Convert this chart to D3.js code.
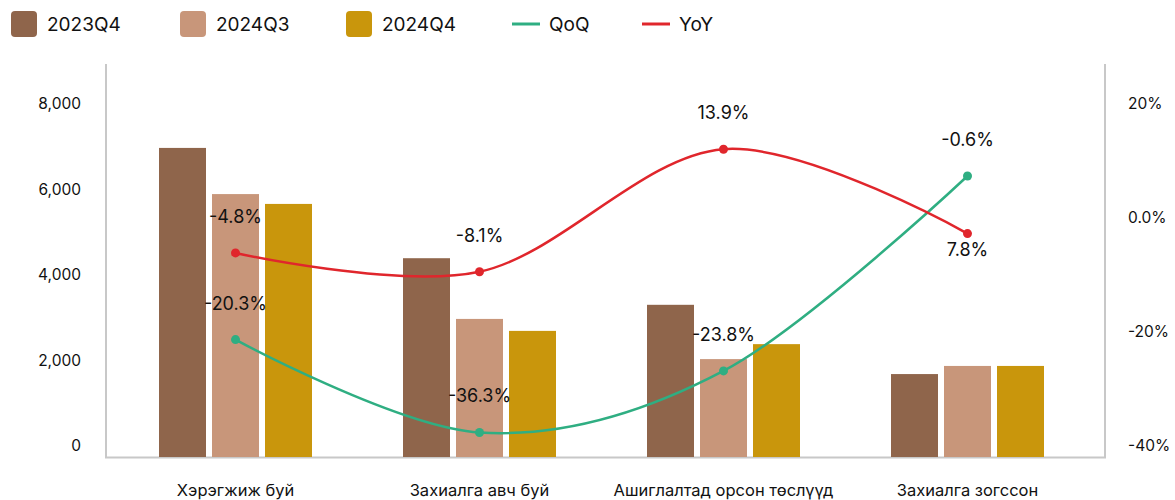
<!DOCTYPE html>
<html>
<head>
<meta charset="utf-8">
<script src="https://cdn.jsdelivr.net/npm/d3@7"></script>
<style>
  body { margin: 0; background: #fff; }
  text { font-family: Inter, "Noto Sans", sans-serif; fill: #111; }
</style>
</head>
<body>
<svg width="1175" height="500"></svg>
<script>
/**Data**/
var categories = ["Хэрэгжиж буй", "Захиалга авч буй", "Ашиглалтад орсон төслүүд", "Захиалга зогссон"];
var seriesNames = ["2023Q4", "2024Q3", "2024Q4"];
var v2023Q4 = [7230, 4650, 3560, 1940];
var v2024Q3 = [6150, 3230, 2290, 2130];
var v2024Q4 = [5920, 2950, 2640, 2130];
var qoq = [-19.4, -35.7, -24.9, 9.3];
var yoy = [-4.2, -7.5, 14.0, -0.8];
var qoqLabels = ["-20.3%", "-36.3%", "-23.8%", "-0.6%"];
var yoyLabels = ["-4.8%", "-8.1%", "13.9%", "7.8%"];
var leftTicks = [0, 2000, 4000, 6000, 8000];
var rightTicks = [20, 0, -20, -40];
var rightTickLabels = ["20%", "0.0%", "-20%", "-40%"];

var barColors = ["#8f654b", "#c8967a", "#c9960c"];
var qoqColor = "#2fae82";
var yoyColor = "#e0262c";

/**Initialization**/
var svg = d3.select("svg");
var plotTop = 115, plotBottom = 457;

var x = d3.scaleBand().domain(categories).range([113.5, 1089.5]).padding(0);
var y = d3.scaleLinear().domain([0, 8000]).range([plotBottom, plotTop]);
var yR = d3.scaleLinear().domain([-40, 20]).range([plotBottom, plotTop]);

var barW = 47, barGap = 6;
var values = [v2023Q4, v2024Q3, v2024Q4];

//frame: left, bottom, right
svg.append("path")
	.attr("d", "M106,64V457.5H1105V64")
	.attr("fill", "none")
	.attr("stroke", "#c8c8c8")
	.attr("stroke-width", 2);

//left axis
var gl = svg.append("g")
	.attr("transform", "translate(81,0)")
	.call(d3.axisLeft(y).tickValues(leftTicks).tickSize(0).tickPadding(0).tickFormat(d3.format(",")));
gl.select(".domain").remove();
gl.selectAll("text")
	.attr("dy", "-0.42em")
	.attr("font-size", 15.5)
	.attr("font-family", "Inter, sans-serif")
	.attr("fill", "#111");

//right axis
var gr = svg.append("g")
	.attr("transform", "translate(1128,0)")
	.call(d3.axisRight(yR).tickValues(rightTicks).tickSize(0).tickPadding(0)
		.tickFormat(function(d, i) { return rightTickLabels[i]; }));
gr.select(".domain").remove();
gr.selectAll("text")
	.attr("dy", "-0.42em")
	.attr("font-size", 15.5)
	.attr("font-family", "Inter, sans-serif")
	.attr("fill", "#111");

//bars
var groupW = barW * 3 + barGap * 2;
seriesNames.forEach(function(name, s) {
	svg.append("g")
		.selectAll("rect")
		.data(values[s])
		.enter().append("rect")
		.attr("x", function(d, i) { return x(categories[i]) + x.bandwidth() / 2 - groupW / 2 + s * (barW + barGap); })
		.attr("y", function(d) { return y(d); })
		.attr("width", barW)
		.attr("height", function(d) { return plotBottom - y(d); })
		.attr("fill", barColors[s]);
});

//category labels
svg.append("g")
	.selectAll("text")
	.data(categories)
	.enter().append("text")
	.attr("x", function(d) { return x(d) + x.bandwidth() / 2; })
	.attr("y", 496)
	.attr("text-anchor", "middle")
	.attr("font-size", 16.5)
	.text(function(d) { return d; });

//lines
function cx(i) { return x(categories[i]) + x.bandwidth() / 2; }
var line = d3.line()
	.x(function(d, i) { return cx(i); })
	.y(function(d) { return yR(d); })
	.curve(d3.curveCardinal.tension(0));

function drawLine(data, labels, color, below) {
	svg.append("path")
		.datum(data)
		.attr("d", line)
		.attr("fill", "none")
		.attr("stroke", color)
		.attr("stroke-width", 2.5);
	svg.append("g")
		.selectAll("circle")
		.data(data)
		.enter().append("circle")
		.attr("cx", function(d, i) { return cx(i); })
		.attr("cy", function(d) { return yR(d); })
		.attr("r", 4.5)
		.attr("fill", color);
	svg.append("g")
		.selectAll("text")
		.data(data)
		.enter().append("text")
		.attr("x", function(d, i) { return cx(i); })
		.attr("y", function(d, i) { return below(i) ? yR(d) + 22 : yR(d) - 30; })
		.attr("text-anchor", "middle")
		.attr("font-size", 18)
		.text(function(d, i) { return labels[i]; });
}
drawLine(qoq, qoqLabels, qoqColor, function() { return false; });
drawLine(yoy, yoyLabels, yoyColor, function(i) { return i === 3; });

//legend
var legend = svg.append("g");
var barLegendX = [11, 180, 346];
seriesNames.forEach(function(name, s) {
	legend.append("rect")
		.attr("x", barLegendX[s]).attr("y", 11)
		.attr("width", 26).attr("height", 26)
		.attr("rx", 4)
		.attr("fill", barColors[s]);
	legend.append("text")
		.attr("x", barLegendX[s] + 36).attr("y", 31)
		.attr("font-size", 19)
		.text(name);
});
[["QoQ", qoqColor, 512], ["YoY", yoyColor, 642]].forEach(function(l) {
	legend.append("line")
		.attr("x1", l[2]).attr("x2", l[2] + 28)
		.attr("y1", 24).attr("y2", 24)
		.attr("stroke", l[1])
		.attr("stroke-width", 3);
	legend.append("text")
		.attr("x", l[2] + 37).attr("y", 31)
		.attr("font-size", 19)
		.text(l[0]);
});
</script>
</body>
</html>
